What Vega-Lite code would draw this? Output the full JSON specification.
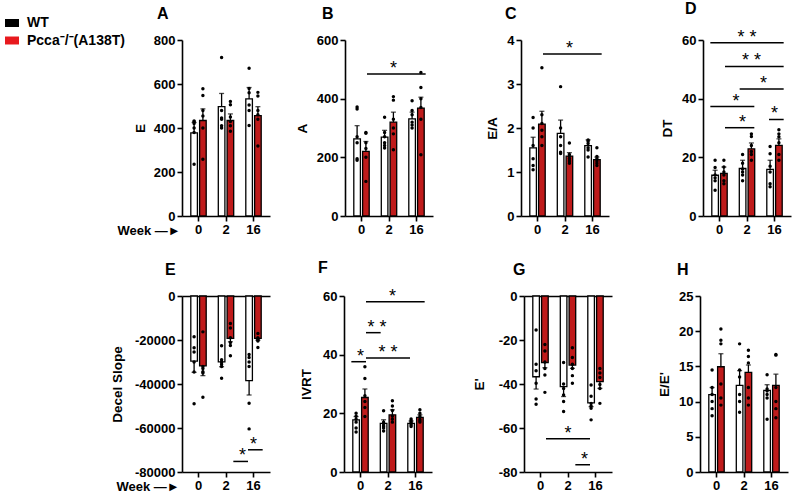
{
"$schema": "https://vega.github.io/schema/vega-lite/v6.json",
"padding": {"left": 5, "right": 5, "top": 0, "bottom": 5},
"config": {
 "view": {"stroke": null},
 "font": "Liberation Sans",
 "axis": {"grid": false, "domainColor": "black", "domainWidth": 1.6, "tickColor": "black", "tickWidth": 1.6, "tickSize": 5, "labelColor": "black", "labelFont": "Liberation Sans", "labelFontSize": 13, "labelFontWeight": "bold", "labelPadding": 2, "titleColor": "black", "titleFont": "Liberation Sans", "titleFontSize": 13.5, "titleFontWeight": "bold"},
 "axisX": {"labelAngle": 0},
 "title": {"font": "Liberation Sans", "fontSize": 16, "fontWeight": "bold", "color": "black", "anchor": "start", "frame": "group", "offset": 12},
 "scale": {"bandPaddingInner": 0, "bandPaddingOuter": 0, "offsetBandPaddingInner": 0.25, "offsetBandPaddingOuter": 0.375}
},
"datasets": {
 "bars": [
  {"p":"A","week":"0","group":"WT","mean":378,"err":425},{"p":"A","week":"0","group":"Pcca","mean":434,"err":487},
  {"p":"A","week":"2","group":"WT","mean":497,"err":557},{"p":"A","week":"2","group":"Pcca","mean":434,"err":464},
  {"p":"A","week":"16","group":"WT","mean":532,"err":584},{"p":"A","week":"16","group":"Pcca","mean":456,"err":497},
  {"p":"B","week":"0","group":"WT","mean":263,"err":308},{"p":"B","week":"0","group":"Pcca","mean":220,"err":254},
  {"p":"B","week":"2","group":"WT","mean":269,"err":292},{"p":"B","week":"2","group":"Pcca","mean":320,"err":354},
  {"p":"B","week":"16","group":"WT","mean":331,"err":354},{"p":"B","week":"16","group":"Pcca","mean":368,"err":405},
  {"p":"C","week":"0","group":"WT","mean":1.55,"err":1.79},{"p":"C","week":"0","group":"Pcca","mean":2.09,"err":2.38},
  {"p":"C","week":"2","group":"WT","mean":1.88,"err":2.18},{"p":"C","week":"2","group":"Pcca","mean":1.36,"err":1.44},
  {"p":"C","week":"16","group":"WT","mean":1.6,"err":1.73},{"p":"C","week":"16","group":"Pcca","mean":1.28,"err":1.34},
  {"p":"D","week":"0","group":"WT","mean":13.9,"err":15.6},{"p":"D","week":"0","group":"Pcca","mean":14.5,"err":16.7},
  {"p":"D","week":"2","group":"WT","mean":16.2,"err":19.0},{"p":"D","week":"2","group":"Pcca","mean":22.9,"err":24.9},
  {"p":"D","week":"16","group":"WT","mean":15.9,"err":19.0},{"p":"D","week":"16","group":"Pcca","mean":24.1,"err":26.3},
  {"p":"E","week":"0","group":"WT","mean":-29600,"err":-34700},{"p":"E","week":"0","group":"Pcca","mean":-31800,"err":-36200},
  {"p":"E","week":"2","group":"WT","mean":-29900,"err":-32150},{"p":"E","week":"2","group":"Pcca","mean":-19300,"err":-20800},
  {"p":"E","week":"16","group":"WT","mean":-38500,"err":-45000},{"p":"E","week":"16","group":"Pcca","mean":-19300,"err":-20100},
  {"p":"F","week":"0","group":"WT","mean":17.8,"err":18.9},{"p":"F","week":"0","group":"Pcca","mean":25.4,"err":28.3},
  {"p":"F","week":"2","group":"WT","mean":16.6,"err":17.8},{"p":"F","week":"2","group":"Pcca","mean":19.5,"err":21.2},
  {"p":"F","week":"16","group":"WT","mean":16.6,"err":17.4},{"p":"F","week":"16","group":"Pcca","mean":18.6,"err":19.5},
  {"p":"G","week":"0","group":"WT","mean":-36.7,"err":-42.3},{"p":"G","week":"0","group":"Pcca","mean":-30.3,"err":-32.6},
  {"p":"G","week":"2","group":"WT","mean":-41.2,"err":-45.7},{"p":"G","week":"2","group":"Pcca","mean":-31.4,"err":-32.9},
  {"p":"G","week":"16","group":"WT","mean":-48.6,"err":-50.3},{"p":"G","week":"16","group":"Pcca","mean":-38.9,"err":-42.0},
  {"p":"H","week":"0","group":"WT","mean":11.0,"err":12.0},{"p":"H","week":"0","group":"Pcca","mean":14.95,"err":16.8},
  {"p":"H","week":"2","group":"WT","mean":12.3,"err":14.4},{"p":"H","week":"2","group":"Pcca","mean":14.15,"err":15.2},
  {"p":"H","week":"16","group":"WT","mean":11.6,"err":12.4},{"p":"H","week":"16","group":"Pcca","mean":12.3,"err":13.9}
 ],
 "pts": [
  {"p":"A","week":"0","group":"WT","v":432},{"p":"A","week":"0","group":"WT","v":428},{"p":"A","week":"0","group":"WT","v":420},{"p":"A","week":"0","group":"WT","v":400},{"p":"A","week":"0","group":"WT","v":380},{"p":"A","week":"0","group":"WT","v":235},
  {"p":"A","week":"0","group":"Pcca","v":578},{"p":"A","week":"0","group":"Pcca","v":548},{"p":"A","week":"0","group":"Pcca","v":480},{"p":"A","week":"0","group":"Pcca","v":455},{"p":"A","week":"0","group":"Pcca","v":400},{"p":"A","week":"0","group":"Pcca","v":258},
  {"p":"A","week":"2","group":"WT","v":720},{"p":"A","week":"2","group":"WT","v":480},{"p":"A","week":"2","group":"WT","v":445},{"p":"A","week":"2","group":"WT","v":440},{"p":"A","week":"2","group":"WT","v":410},{"p":"A","week":"2","group":"WT","v":400},
  {"p":"A","week":"2","group":"Pcca","v":521},{"p":"A","week":"2","group":"Pcca","v":506},{"p":"A","week":"2","group":"Pcca","v":450},{"p":"A","week":"2","group":"Pcca","v":430},{"p":"A","week":"2","group":"Pcca","v":410},{"p":"A","week":"2","group":"Pcca","v":385},
  {"p":"A","week":"16","group":"WT","v":672},{"p":"A","week":"16","group":"WT","v":580},{"p":"A","week":"16","group":"WT","v":560},{"p":"A","week":"16","group":"WT","v":505},{"p":"A","week":"16","group":"WT","v":480},{"p":"A","week":"16","group":"WT","v":411},
  {"p":"A","week":"16","group":"Pcca","v":562},{"p":"A","week":"16","group":"Pcca","v":545},{"p":"A","week":"16","group":"Pcca","v":480},{"p":"A","week":"16","group":"Pcca","v":460},{"p":"A","week":"16","group":"Pcca","v":440},{"p":"A","week":"16","group":"Pcca","v":318},
  {"p":"B","week":"0","group":"WT","v":372},{"p":"B","week":"0","group":"WT","v":365},{"p":"B","week":"0","group":"WT","v":270},{"p":"B","week":"0","group":"WT","v":250},{"p":"B","week":"0","group":"WT","v":195},{"p":"B","week":"0","group":"WT","v":190},
  {"p":"B","week":"0","group":"Pcca","v":285},{"p":"B","week":"0","group":"Pcca","v":282},{"p":"B","week":"0","group":"Pcca","v":250},{"p":"B","week":"0","group":"Pcca","v":230},{"p":"B","week":"0","group":"Pcca","v":200},{"p":"B","week":"0","group":"Pcca","v":118},
  {"p":"B","week":"2","group":"WT","v":337},{"p":"B","week":"2","group":"WT","v":285},{"p":"B","week":"2","group":"WT","v":270},{"p":"B","week":"2","group":"WT","v":250},{"p":"B","week":"2","group":"WT","v":240},{"p":"B","week":"2","group":"WT","v":232},
  {"p":"B","week":"2","group":"Pcca","v":407},{"p":"B","week":"2","group":"Pcca","v":395},{"p":"B","week":"2","group":"Pcca","v":330},{"p":"B","week":"2","group":"Pcca","v":300},{"p":"B","week":"2","group":"Pcca","v":280},{"p":"B","week":"2","group":"Pcca","v":226},
  {"p":"B","week":"16","group":"WT","v":393},{"p":"B","week":"16","group":"WT","v":360},{"p":"B","week":"16","group":"WT","v":345},{"p":"B","week":"16","group":"WT","v":320},{"p":"B","week":"16","group":"WT","v":310},{"p":"B","week":"16","group":"WT","v":300},
  {"p":"B","week":"16","group":"Pcca","v":489},{"p":"B","week":"16","group":"Pcca","v":438},{"p":"B","week":"16","group":"Pcca","v":400},{"p":"B","week":"16","group":"Pcca","v":370},{"p":"B","week":"16","group":"Pcca","v":330},{"p":"B","week":"16","group":"Pcca","v":209},
  {"p":"C","week":"0","group":"WT","v":2.24},{"p":"C","week":"0","group":"WT","v":2.0},{"p":"C","week":"0","group":"WT","v":1.6},{"p":"C","week":"0","group":"WT","v":1.3},{"p":"C","week":"0","group":"WT","v":1.15},{"p":"C","week":"0","group":"WT","v":1.05},
  {"p":"C","week":"0","group":"Pcca","v":3.37},{"p":"C","week":"0","group":"Pcca","v":2.3},{"p":"C","week":"0","group":"Pcca","v":2.1},{"p":"C","week":"0","group":"Pcca","v":1.95},{"p":"C","week":"0","group":"Pcca","v":1.8},{"p":"C","week":"0","group":"Pcca","v":1.6},
  {"p":"C","week":"2","group":"WT","v":2.94},{"p":"C","week":"2","group":"WT","v":2.0},{"p":"C","week":"2","group":"WT","v":1.8},{"p":"C","week":"2","group":"WT","v":1.6},{"p":"C","week":"2","group":"WT","v":1.45},{"p":"C","week":"2","group":"WT","v":1.42},
  {"p":"C","week":"2","group":"Pcca","v":1.66},{"p":"C","week":"2","group":"Pcca","v":1.4},{"p":"C","week":"2","group":"Pcca","v":1.35},{"p":"C","week":"2","group":"Pcca","v":1.3},{"p":"C","week":"2","group":"Pcca","v":1.25},{"p":"C","week":"2","group":"Pcca","v":1.2},
  {"p":"C","week":"16","group":"WT","v":1.73},{"p":"C","week":"16","group":"WT","v":1.7},{"p":"C","week":"16","group":"WT","v":1.65},{"p":"C","week":"16","group":"WT","v":1.55},{"p":"C","week":"16","group":"WT","v":1.5},{"p":"C","week":"16","group":"WT","v":1.34},
  {"p":"C","week":"16","group":"Pcca","v":1.55},{"p":"C","week":"16","group":"Pcca","v":1.35},{"p":"C","week":"16","group":"Pcca","v":1.3},{"p":"C","week":"16","group":"Pcca","v":1.25},{"p":"C","week":"16","group":"Pcca","v":1.2},{"p":"C","week":"16","group":"Pcca","v":1.15},
  {"p":"D","week":"0","group":"WT","v":19},{"p":"D","week":"0","group":"WT","v":16.5},{"p":"D","week":"0","group":"WT","v":14},{"p":"D","week":"0","group":"WT","v":13},{"p":"D","week":"0","group":"WT","v":12},{"p":"D","week":"0","group":"WT","v":8.8},
  {"p":"D","week":"0","group":"Pcca","v":19},{"p":"D","week":"0","group":"Pcca","v":16.7},{"p":"D","week":"0","group":"Pcca","v":15},{"p":"D","week":"0","group":"Pcca","v":14},{"p":"D","week":"0","group":"Pcca","v":12},{"p":"D","week":"0","group":"Pcca","v":11},
  {"p":"D","week":"2","group":"WT","v":21},{"p":"D","week":"2","group":"WT","v":18},{"p":"D","week":"2","group":"WT","v":16},{"p":"D","week":"2","group":"WT","v":15},{"p":"D","week":"2","group":"WT","v":14},{"p":"D","week":"2","group":"WT","v":12},
  {"p":"D","week":"2","group":"Pcca","v":28},{"p":"D","week":"2","group":"Pcca","v":27.1},{"p":"D","week":"2","group":"Pcca","v":24},{"p":"D","week":"2","group":"Pcca","v":22},{"p":"D","week":"2","group":"Pcca","v":21},{"p":"D","week":"2","group":"Pcca","v":19},
  {"p":"D","week":"16","group":"WT","v":23.7},{"p":"D","week":"16","group":"WT","v":21.2},{"p":"D","week":"16","group":"WT","v":17},{"p":"D","week":"16","group":"WT","v":15},{"p":"D","week":"16","group":"WT","v":11},{"p":"D","week":"16","group":"WT","v":10},
  {"p":"D","week":"16","group":"Pcca","v":29.4},{"p":"D","week":"16","group":"Pcca","v":28},{"p":"D","week":"16","group":"Pcca","v":27},{"p":"D","week":"16","group":"Pcca","v":25},{"p":"D","week":"16","group":"Pcca","v":21},{"p":"D","week":"16","group":"Pcca","v":19},
  {"p":"E","week":"0","group":"WT","v":-18500},{"p":"E","week":"0","group":"WT","v":-23500},{"p":"E","week":"0","group":"WT","v":-25500},{"p":"E","week":"0","group":"WT","v":-30000},{"p":"E","week":"0","group":"WT","v":-34500},{"p":"E","week":"0","group":"WT","v":-49000},
  {"p":"E","week":"0","group":"Pcca","v":-16300},{"p":"E","week":"0","group":"Pcca","v":-32000},{"p":"E","week":"0","group":"Pcca","v":-33000},{"p":"E","week":"0","group":"Pcca","v":-34400},{"p":"E","week":"0","group":"Pcca","v":-35000},{"p":"E","week":"0","group":"Pcca","v":-46000},
  {"p":"E","week":"2","group":"WT","v":-22640},{"p":"E","week":"2","group":"WT","v":-29000},{"p":"E","week":"2","group":"WT","v":-30000},{"p":"E","week":"2","group":"WT","v":-31000},{"p":"E","week":"2","group":"WT","v":-32000},{"p":"E","week":"2","group":"WT","v":-37400},
  {"p":"E","week":"2","group":"Pcca","v":-12530},{"p":"E","week":"2","group":"Pcca","v":-14500},{"p":"E","week":"2","group":"Pcca","v":-19000},{"p":"E","week":"2","group":"Pcca","v":-21100},{"p":"E","week":"2","group":"Pcca","v":-22500},{"p":"E","week":"2","group":"Pcca","v":-27200},
  {"p":"E","week":"16","group":"WT","v":-26560},{"p":"E","week":"16","group":"WT","v":-28000},{"p":"E","week":"16","group":"WT","v":-30000},{"p":"E","week":"16","group":"WT","v":-32000},{"p":"E","week":"16","group":"WT","v":-48750},{"p":"E","week":"16","group":"WT","v":-60400},
  {"p":"E","week":"16","group":"Pcca","v":-17060},{"p":"E","week":"16","group":"Pcca","v":-19000},{"p":"E","week":"16","group":"Pcca","v":-19500},{"p":"E","week":"16","group":"Pcca","v":-20000},{"p":"E","week":"16","group":"Pcca","v":-20500},{"p":"E","week":"16","group":"Pcca","v":-23400},
  {"p":"F","week":"0","group":"WT","v":20},{"p":"F","week":"0","group":"WT","v":19},{"p":"F","week":"0","group":"WT","v":18},{"p":"F","week":"0","group":"WT","v":17},{"p":"F","week":"0","group":"WT","v":15},{"p":"F","week":"0","group":"WT","v":13.6},
  {"p":"F","week":"0","group":"Pcca","v":35.9},{"p":"F","week":"0","group":"Pcca","v":31.9},{"p":"F","week":"0","group":"Pcca","v":26},{"p":"F","week":"0","group":"Pcca","v":24},{"p":"F","week":"0","group":"Pcca","v":22},{"p":"F","week":"0","group":"Pcca","v":18.9},
  {"p":"F","week":"2","group":"WT","v":20.9},{"p":"F","week":"2","group":"WT","v":17},{"p":"F","week":"2","group":"WT","v":16},{"p":"F","week":"2","group":"WT","v":15.5},{"p":"F","week":"2","group":"WT","v":15},{"p":"F","week":"2","group":"WT","v":14},
  {"p":"F","week":"2","group":"Pcca","v":24.3},{"p":"F","week":"2","group":"Pcca","v":22.5},{"p":"F","week":"2","group":"Pcca","v":21},{"p":"F","week":"2","group":"Pcca","v":19},{"p":"F","week":"2","group":"Pcca","v":18},{"p":"F","week":"2","group":"Pcca","v":17},
  {"p":"F","week":"16","group":"WT","v":18.1},{"p":"F","week":"16","group":"WT","v":17.5},{"p":"F","week":"16","group":"WT","v":17},{"p":"F","week":"16","group":"WT","v":16.5},{"p":"F","week":"16","group":"WT","v":16},{"p":"F","week":"16","group":"WT","v":15.5},
  {"p":"F","week":"16","group":"Pcca","v":21.2},{"p":"F","week":"16","group":"Pcca","v":20},{"p":"F","week":"16","group":"Pcca","v":19},{"p":"F","week":"16","group":"Pcca","v":18},{"p":"F","week":"16","group":"Pcca","v":17.5},{"p":"F","week":"16","group":"Pcca","v":17},
  {"p":"G","week":"0","group":"WT","v":-15.5},{"p":"G","week":"0","group":"WT","v":-31},{"p":"G","week":"0","group":"WT","v":-34},{"p":"G","week":"0","group":"WT","v":-39.7},{"p":"G","week":"0","group":"WT","v":-46.8},{"p":"G","week":"0","group":"WT","v":-49.2},
  {"p":"G","week":"0","group":"Pcca","v":-22},{"p":"G","week":"0","group":"Pcca","v":-25},{"p":"G","week":"0","group":"Pcca","v":-30},{"p":"G","week":"0","group":"Pcca","v":-33},{"p":"G","week":"0","group":"Pcca","v":-35.9},{"p":"G","week":"0","group":"Pcca","v":-43.8},
  {"p":"G","week":"2","group":"WT","v":-30.2},{"p":"G","week":"2","group":"WT","v":-40},{"p":"G","week":"2","group":"WT","v":-42},{"p":"G","week":"2","group":"WT","v":-45},{"p":"G","week":"2","group":"WT","v":-48},{"p":"G","week":"2","group":"WT","v":-52.5},
  {"p":"G","week":"2","group":"Pcca","v":-23.5},{"p":"G","week":"2","group":"Pcca","v":-28},{"p":"G","week":"2","group":"Pcca","v":-31},{"p":"G","week":"2","group":"Pcca","v":-33},{"p":"G","week":"2","group":"Pcca","v":-36.2},{"p":"G","week":"2","group":"Pcca","v":-39.7},
  {"p":"G","week":"16","group":"WT","v":-40.5},{"p":"G","week":"16","group":"WT","v":-45.6},{"p":"G","week":"16","group":"WT","v":-48.8},{"p":"G","week":"16","group":"WT","v":-50},{"p":"G","week":"16","group":"WT","v":-51},{"p":"G","week":"16","group":"WT","v":-56.3},
  {"p":"G","week":"16","group":"Pcca","v":-33},{"p":"G","week":"16","group":"Pcca","v":-35},{"p":"G","week":"16","group":"Pcca","v":-37},{"p":"G","week":"16","group":"Pcca","v":-40.2},{"p":"G","week":"16","group":"Pcca","v":-42},{"p":"G","week":"16","group":"Pcca","v":-48.8},
  {"p":"H","week":"0","group":"WT","v":14.5},{"p":"H","week":"0","group":"WT","v":12},{"p":"H","week":"0","group":"WT","v":11},{"p":"H","week":"0","group":"WT","v":10},{"p":"H","week":"0","group":"WT","v":9},{"p":"H","week":"0","group":"WT","v":8},
  {"p":"H","week":"0","group":"Pcca","v":20.3},{"p":"H","week":"0","group":"Pcca","v":18.7},{"p":"H","week":"0","group":"Pcca","v":18.2},{"p":"H","week":"0","group":"Pcca","v":12.5},{"p":"H","week":"0","group":"Pcca","v":10.5},{"p":"H","week":"0","group":"Pcca","v":9.5},
  {"p":"H","week":"2","group":"WT","v":18.2},{"p":"H","week":"2","group":"WT","v":14.5},{"p":"H","week":"2","group":"WT","v":13.5},{"p":"H","week":"2","group":"WT","v":11},{"p":"H","week":"2","group":"WT","v":10},{"p":"H","week":"2","group":"WT","v":8.5},
  {"p":"H","week":"2","group":"Pcca","v":17.3},{"p":"H","week":"2","group":"Pcca","v":16.4},{"p":"H","week":"2","group":"Pcca","v":15.5},{"p":"H","week":"2","group":"Pcca","v":12},{"p":"H","week":"2","group":"Pcca","v":10.5},{"p":"H","week":"2","group":"Pcca","v":9.5},
  {"p":"H","week":"16","group":"WT","v":13.8},{"p":"H","week":"16","group":"WT","v":11.8},{"p":"H","week":"16","group":"WT","v":11.5},{"p":"H","week":"16","group":"WT","v":11},{"p":"H","week":"16","group":"WT","v":10.5},{"p":"H","week":"16","group":"WT","v":7.5},
  {"p":"H","week":"16","group":"Pcca","v":16.7},{"p":"H","week":"16","group":"Pcca","v":16.6},{"p":"H","week":"16","group":"Pcca","v":12},{"p":"H","week":"16","group":"Pcca","v":10},{"p":"H","week":"16","group":"Pcca","v":9},{"p":"H","week":"16","group":"Pcca","v":7.7}
 ],
 "sig": [
  {"p":"B","from":"Pcca 0","to":"Pcca 16","y":484,"label":"*","week":"2","at":"Pcca"},
  {"p":"C","from":"Pcca 0","to":"Pcca 16","y":3.68,"label":"*","week":"2","at":"Pcca"},
  {"p":"D","from":"WT 0","to":"Pcca 16","y":59.1,"label":"* *","week":"2","at":"mid"},
  {"p":"D","from":"Pcca 0","to":"Pcca 16","y":51.0,"label":"* *","week":"2","at":"Pcca"},
  {"p":"D","from":"WT 2","to":"Pcca 16","y":43.3,"label":"*","week":"16","at":"gap"},
  {"p":"D","from":"WT 0","to":"Pcca 2","y":37.3,"label":"*","week":"2","at":"gap"},
  {"p":"D","from":"Pcca 0","to":"Pcca 2","y":30.1,"label":"*","week":"2","at":"WT"},
  {"p":"D","from":"WT 16","to":"Pcca 16","y":32.9,"label":"*","week":"16","at":"mid"},
  {"p":"E","from":"Pcca 2","to":"WT 16","y":-75200,"label":"*","week":"16","at":"gap"},
  {"p":"E","from":"WT 16","to":"Pcca 16","y":-69900,"label":"*","week":"16","at":"mid"},
  {"p":"F","from":"Pcca 0","to":"Pcca 16","y":58.0,"label":"*","week":"2","at":"Pcca"},
  {"p":"F","from":"Pcca 0","to":"WT 2","y":47.5,"label":"* *","week":"2","at":"gap"},
  {"p":"F","from":"Pcca 0","to":"WT 16","y":38.9,"label":"* *","week":"2","at":"mid"},
  {"p":"F","from":"WT 0","to":"Pcca 0","y":37.6,"label":"*","week":"0","at":"mid"},
  {"p":"G","from":"Pcca 0","to":"WT 16","y":-64.9,"label":"*","week":"2","at":"mid"},
  {"p":"G","from":"Pcca 2","to":"WT 16","y":-76.7,"label":"*","week":"16","at":"gap"}
 ]
},
"spacing": 22,
"vconcat": [
 {"spacing": 52, "hconcat": [
  {"spacing": 25, "hconcat": [
   {"width": 88, "height": 176, "title": {"text": "A", "dx": -25},
    "layer": [
     {"data": {"name": "bars"}, "transform": [{"filter": "datum.p == 'A'"}],
      "mark": {"type": "bar", "stroke": "black", "strokeWidth": 1.3},
      "encoding": {
       "x": {"field": "week", "type": "nominal", "scale": {"domain": ["0","2","16"]}, "axis": {"title": "Week —►", "titleX": -65, "titleY": 14, "titleAlign": "left", "titleBaseline": "middle", "titleAngle": 0, "titleFontSize": 13}},
       "xOffset": {"field": "group", "type": "nominal", "scale": {"domain": ["WT","Pcca"]}},
       "y": {"field": "mean", "type": "quantitative", "scale": {"domain": [0, 800], "nice": false}, "axis": {"title": "E", "tickCount": 5, "titlePadding": 5.5}},
       "fill": {"field": "group", "type": "nominal", "scale": {"domain": ["Pcca","WT"], "range": ["#bf1b1b", "white"]}, "legend": null}
      }},
     {"data": {"name": "bars"}, "transform": [{"filter": "datum.p == 'A'"}],
      "mark": {"type": "rule", "color": "black", "strokeWidth": 1.3},
      "encoding": {"x": {"field": "week", "type": "nominal", "scale": {"domain": ["0","2","16"]}}, "xOffset": {"field": "group", "type": "nominal", "scale": {"domain": ["WT","Pcca"]}}, "y": {"field": "mean", "type": "quantitative"}, "y2": {"field": "err"}}},
     {"data": {"name": "bars"}, "transform": [{"filter": "datum.p == 'A'"}],
      "mark": {"type": "tick", "orient": "horizontal", "color": "black", "size": 5, "thickness": 1.3},
      "encoding": {"x": {"field": "week", "type": "nominal", "scale": {"domain": ["0","2","16"]}}, "xOffset": {"field": "group", "type": "nominal", "scale": {"domain": ["WT","Pcca"]}}, "y": {"field": "err", "type": "quantitative"}}},
     {"data": {"name": "pts"}, "transform": [{"filter": "datum.p == 'A'"}],
      "mark": {"type": "circle", "color": "black", "size": 12, "opacity": 1},
      "encoding": {"x": {"field": "week", "type": "nominal", "scale": {"domain": ["0","2","16"]}}, "xOffset": {"field": "group", "type": "nominal", "scale": {"domain": ["WT","Pcca"]}}, "y": {"field": "v", "type": "quantitative"}}},
     {"data": {"name": "bars"}, "transform": [{"filter": "datum.p == 'A'"}],
      "mark": {"type": "square", "opacity": 0},
      "encoding": {"x": {"field": "week", "type": "nominal", "scale": {"domain": ["0","2","16"]}}, "xOffset": {"field": "group", "type": "nominal", "scale": {"domain": ["WT","Pcca"]}}, "y": {"field": "mean", "type": "quantitative"},
       "color": {"field": "group", "type": "nominal", "scale": {"domain": ["WT","Pcca"], "range": ["black", "#e8191e"]},
        "legend": {"title": null, "orient": "none", "legendX": -177, "legendY": -24, "symbolType": "M-1,-0.57H1V0.57H-1Z", "symbolSize": 196, "symbolStrokeWidth": 0, "symbolOpacity": 1, "labelFont": "Liberation Sans", "labelFontSize": 14, "labelFontWeight": "bold", "labelColor": "black", "rowPadding": 3.5, "labelOffset": 8, "padding": 0, "labelExpr": "datum.label == 'WT' ? 'WT' : 'Pcca⁻/⁻(A138T)'"}}}}
    ]},
   {"width": 88, "height": 176, "title": {"text": "B", "dx": -23},
    "layer": [
     {"layer": [
      {"data": {"name": "bars"}, "transform": [{"filter": "datum.p == 'B'"}],
       "mark": {"type": "bar", "stroke": "black", "strokeWidth": 1.3},
       "encoding": {
        "x": {"field": "week", "type": "nominal", "scale": {"domain": ["0","2","16"]}, "axis": {"title": null}},
        "xOffset": {"field": "group", "type": "nominal", "scale": {"domain": ["WT","Pcca"]}},
        "y": {"field": "mean", "type": "quantitative", "scale": {"domain": [0, 600], "nice": false}, "axis": {"title": "A", "tickCount": 4, "titlePadding": 6.5}},
        "fill": {"field": "group", "type": "nominal", "scale": {"domain": ["Pcca","WT"], "range": ["#bf1b1b", "white"]}, "legend": null}
       }},
      {"data": {"name": "bars"}, "transform": [{"filter": "datum.p == 'B'"}],
       "mark": {"type": "rule", "color": "black", "strokeWidth": 1.3},
       "encoding": {"x": {"field": "week", "type": "nominal", "scale": {"domain": ["0","2","16"]}}, "xOffset": {"field": "group", "type": "nominal", "scale": {"domain": ["WT","Pcca"]}}, "y": {"field": "mean", "type": "quantitative"}, "y2": {"field": "err"}}},
      {"data": {"name": "bars"}, "transform": [{"filter": "datum.p == 'B'"}],
       "mark": {"type": "tick", "orient": "horizontal", "color": "black", "size": 5, "thickness": 1.3},
       "encoding": {"x": {"field": "week", "type": "nominal", "scale": {"domain": ["0","2","16"]}}, "xOffset": {"field": "group", "type": "nominal", "scale": {"domain": ["WT","Pcca"]}}, "y": {"field": "err", "type": "quantitative"}}},
      {"data": {"name": "pts"}, "transform": [{"filter": "datum.p == 'B'"}],
       "mark": {"type": "circle", "color": "black", "size": 12, "opacity": 1},
       "encoding": {"x": {"field": "week", "type": "nominal", "scale": {"domain": ["0","2","16"]}}, "xOffset": {"field": "group", "type": "nominal", "scale": {"domain": ["WT","Pcca"]}}, "y": {"field": "v", "type": "quantitative"}}},
      {"data": {"name": "sig"}, "transform": [{"filter": "datum.p == 'B' && (datum.at == 'WT' || datum.at == 'Pcca')"}],
       "mark": {"type": "text", "fontSize": 18, "baseline": "alphabetic", "color": "black"},
       "encoding": {"x": {"field": "week", "type": "nominal", "scale": {"domain": ["0","2","16"]}}, "xOffset": {"field": "at", "type": "nominal", "scale": {"domain": ["WT","Pcca"]}}, "y": {"field": "y", "type": "quantitative"}, "text": {"field": "label"}}}
     ]},
     {"data": {"name": "sig"}, "transform": [{"filter": "datum.p == 'B'"}],
      "mark": {"type": "rule", "color": "black", "strokeWidth": 1.5},
      "encoding": {"x": {"field": "from", "type": "nominal", "scale": {"type": "point", "domain": ["WT 0","Pcca 0","WT 2","Pcca 2","WT 16","Pcca 16"], "padding": 0.5}, "axis": null}, "x2": {"field": "to"}, "y": {"field": "y", "type": "quantitative"}}}
    ],
    "resolve": {"scale": {"x": "independent"}}}
  ]},
  {"spacing": 51, "hconcat": [
   {"width": 88, "height": 176, "title": {"text": "C", "dx": -16},
    "layer": [
     {"layer": [
      {"data": {"name": "bars"}, "transform": [{"filter": "datum.p == 'C'"}],
       "mark": {"type": "bar", "stroke": "black", "strokeWidth": 1.3},
       "encoding": {
        "x": {"field": "week", "type": "nominal", "scale": {"domain": ["0","2","16"]}, "axis": {"title": null}},
        "xOffset": {"field": "group", "type": "nominal", "scale": {"domain": ["WT","Pcca"]}},
        "y": {"field": "mean", "type": "quantitative", "scale": {"domain": [0, 4], "nice": false}, "axis": {"title": "E/A", "tickCount": 5, "titlePadding": 7}},
        "fill": {"field": "group", "type": "nominal", "scale": {"domain": ["Pcca","WT"], "range": ["#bf1b1b", "white"]}, "legend": null}
       }},
      {"data": {"name": "bars"}, "transform": [{"filter": "datum.p == 'C'"}],
       "mark": {"type": "rule", "color": "black", "strokeWidth": 1.3},
       "encoding": {"x": {"field": "week", "type": "nominal", "scale": {"domain": ["0","2","16"]}}, "xOffset": {"field": "group", "type": "nominal", "scale": {"domain": ["WT","Pcca"]}}, "y": {"field": "mean", "type": "quantitative"}, "y2": {"field": "err"}}},
      {"data": {"name": "bars"}, "transform": [{"filter": "datum.p == 'C'"}],
       "mark": {"type": "tick", "orient": "horizontal", "color": "black", "size": 5, "thickness": 1.3},
       "encoding": {"x": {"field": "week", "type": "nominal", "scale": {"domain": ["0","2","16"]}}, "xOffset": {"field": "group", "type": "nominal", "scale": {"domain": ["WT","Pcca"]}}, "y": {"field": "err", "type": "quantitative"}}},
      {"data": {"name": "pts"}, "transform": [{"filter": "datum.p == 'C'"}],
       "mark": {"type": "circle", "color": "black", "size": 12, "opacity": 1},
       "encoding": {"x": {"field": "week", "type": "nominal", "scale": {"domain": ["0","2","16"]}}, "xOffset": {"field": "group", "type": "nominal", "scale": {"domain": ["WT","Pcca"]}}, "y": {"field": "v", "type": "quantitative"}}},
      {"data": {"name": "sig"}, "transform": [{"filter": "datum.p == 'C' && (datum.at == 'WT' || datum.at == 'Pcca')"}],
       "mark": {"type": "text", "fontSize": 18, "baseline": "alphabetic", "color": "black"},
       "encoding": {"x": {"field": "week", "type": "nominal", "scale": {"domain": ["0","2","16"]}}, "xOffset": {"field": "at", "type": "nominal", "scale": {"domain": ["WT","Pcca"]}}, "y": {"field": "y", "type": "quantitative"}, "text": {"field": "label"}}}
     ]},
     {"data": {"name": "sig"}, "transform": [{"filter": "datum.p == 'C'"}],
      "mark": {"type": "rule", "color": "black", "strokeWidth": 1.5},
      "encoding": {"x": {"field": "from", "type": "nominal", "scale": {"type": "point", "domain": ["WT 0","Pcca 0","WT 2","Pcca 2","WT 16","Pcca 16"], "padding": 0.5}, "axis": null}, "x2": {"field": "to"}, "y": {"field": "y", "type": "quantitative"}}}
    ],
    "resolve": {"scale": {"x": "independent"}}},
   {"width": 88, "height": 176, "title": {"text": "D", "dx": -18},
    "layer": [
     {"layer": [
      {"data": {"name": "bars"}, "transform": [{"filter": "datum.p == 'D'"}],
       "mark": {"type": "bar", "stroke": "black", "strokeWidth": 1.3},
       "encoding": {
        "x": {"field": "week", "type": "nominal", "scale": {"domain": ["0","2","16"]}, "axis": {"title": null}},
        "xOffset": {"field": "group", "type": "nominal", "scale": {"domain": ["WT","Pcca"]}},
        "y": {"field": "mean", "type": "quantitative", "scale": {"domain": [0, 60], "nice": false}, "axis": {"title": "DT", "tickCount": 4, "titlePadding": 7}},
        "fill": {"field": "group", "type": "nominal", "scale": {"domain": ["Pcca","WT"], "range": ["#bf1b1b", "white"]}, "legend": null}
       }},
      {"data": {"name": "bars"}, "transform": [{"filter": "datum.p == 'D'"}],
       "mark": {"type": "rule", "color": "black", "strokeWidth": 1.3},
       "encoding": {"x": {"field": "week", "type": "nominal", "scale": {"domain": ["0","2","16"]}}, "xOffset": {"field": "group", "type": "nominal", "scale": {"domain": ["WT","Pcca"]}}, "y": {"field": "mean", "type": "quantitative"}, "y2": {"field": "err"}}},
      {"data": {"name": "bars"}, "transform": [{"filter": "datum.p == 'D'"}],
       "mark": {"type": "tick", "orient": "horizontal", "color": "black", "size": 5, "thickness": 1.3},
       "encoding": {"x": {"field": "week", "type": "nominal", "scale": {"domain": ["0","2","16"]}}, "xOffset": {"field": "group", "type": "nominal", "scale": {"domain": ["WT","Pcca"]}}, "y": {"field": "err", "type": "quantitative"}}},
      {"data": {"name": "pts"}, "transform": [{"filter": "datum.p == 'D'"}],
       "mark": {"type": "circle", "color": "black", "size": 12, "opacity": 1},
       "encoding": {"x": {"field": "week", "type": "nominal", "scale": {"domain": ["0","2","16"]}}, "xOffset": {"field": "group", "type": "nominal", "scale": {"domain": ["WT","Pcca"]}}, "y": {"field": "v", "type": "quantitative"}}},
      {"data": {"name": "sig"}, "transform": [{"filter": "datum.p == 'D' && (datum.at == 'WT' || datum.at == 'Pcca')"}],
       "mark": {"type": "text", "fontSize": 18, "baseline": "alphabetic", "color": "black"},
       "encoding": {"x": {"field": "week", "type": "nominal", "scale": {"domain": ["0","2","16"]}}, "xOffset": {"field": "at", "type": "nominal", "scale": {"domain": ["WT","Pcca"]}}, "y": {"field": "y", "type": "quantitative"}, "text": {"field": "label"}}},
      {"data": {"name": "sig"}, "transform": [{"filter": "datum.p == 'D' && datum.at == 'mid'"}],
       "mark": {"type": "text", "fontSize": 18, "baseline": "alphabetic", "color": "black"},
       "encoding": {"x": {"field": "week", "type": "nominal", "scale": {"domain": ["0","2","16"]}, "bandPosition": 0.5}, "y": {"field": "y", "type": "quantitative"}, "text": {"field": "label"}}},
      {"data": {"name": "sig"}, "transform": [{"filter": "datum.p == 'D' && datum.at == 'gap'"}],
       "mark": {"type": "text", "fontSize": 18, "baseline": "alphabetic", "color": "black"},
       "encoding": {"x": {"field": "week", "type": "nominal", "scale": {"domain": ["0","2","16"]}, "bandPosition": 0}, "y": {"field": "y", "type": "quantitative"}, "text": {"field": "label"}}}
     ]},
     {"data": {"name": "sig"}, "transform": [{"filter": "datum.p == 'D'"}],
      "mark": {"type": "rule", "color": "black", "strokeWidth": 1.5},
      "encoding": {"x": {"field": "from", "type": "nominal", "scale": {"type": "point", "domain": ["WT 0","Pcca 0","WT 2","Pcca 2","WT 16","Pcca 16"], "padding": 0.5}, "axis": null}, "x2": {"field": "to"}, "y": {"field": "y", "type": "quantitative"}}}
    ],
    "resolve": {"scale": {"x": "independent"}}}
  ]}
 ]},
 {"spacing": 40, "hconcat": [
  {"spacing": 29, "hconcat": [
   {"width": 88, "height": 176, "title": {"text": "E", "dx": -17},
    "layer": [
     {"layer": [
      {"data": {"name": "bars"}, "transform": [{"filter": "datum.p == 'E'"}],
       "mark": {"type": "bar", "stroke": "black", "strokeWidth": 1.3},
       "encoding": {
        "x": {"field": "week", "type": "nominal", "scale": {"domain": ["0","2","16"]}, "axis": {"title": "Week —►", "titleX": -66, "titleY": 14, "titleAlign": "left", "titleBaseline": "middle", "titleAngle": 0, "titleFontSize": 13}},
        "xOffset": {"field": "group", "type": "nominal", "scale": {"domain": ["WT","Pcca"]}},
        "y": {"field": "mean", "type": "quantitative", "scale": {"domain": [-80000, 0], "nice": false}, "axis": {"title": "Decel Slope", "tickCount": 5, "labelExpr": "'' + datum.value", "titlePadding": 10}},
        "fill": {"field": "group", "type": "nominal", "scale": {"domain": ["Pcca","WT"], "range": ["#bf1b1b", "white"]}, "legend": null}
       }},
      {"data": {"name": "bars"}, "transform": [{"filter": "datum.p == 'E'"}],
       "mark": {"type": "rule", "color": "black", "strokeWidth": 1.3},
       "encoding": {"x": {"field": "week", "type": "nominal", "scale": {"domain": ["0","2","16"]}}, "xOffset": {"field": "group", "type": "nominal", "scale": {"domain": ["WT","Pcca"]}}, "y": {"field": "mean", "type": "quantitative"}, "y2": {"field": "err"}}},
      {"data": {"name": "bars"}, "transform": [{"filter": "datum.p == 'E'"}],
       "mark": {"type": "tick", "orient": "horizontal", "color": "black", "size": 5, "thickness": 1.3},
       "encoding": {"x": {"field": "week", "type": "nominal", "scale": {"domain": ["0","2","16"]}}, "xOffset": {"field": "group", "type": "nominal", "scale": {"domain": ["WT","Pcca"]}}, "y": {"field": "err", "type": "quantitative"}}},
      {"data": {"name": "pts"}, "transform": [{"filter": "datum.p == 'E'"}],
       "mark": {"type": "circle", "color": "black", "size": 12, "opacity": 1},
       "encoding": {"x": {"field": "week", "type": "nominal", "scale": {"domain": ["0","2","16"]}}, "xOffset": {"field": "group", "type": "nominal", "scale": {"domain": ["WT","Pcca"]}}, "y": {"field": "v", "type": "quantitative"}}},
      {"data": {"name": "sig"}, "transform": [{"filter": "datum.p == 'E' && datum.at == 'mid'"}],
       "mark": {"type": "text", "fontSize": 18, "baseline": "alphabetic", "color": "black"},
       "encoding": {"x": {"field": "week", "type": "nominal", "scale": {"domain": ["0","2","16"]}, "bandPosition": 0.5}, "y": {"field": "y", "type": "quantitative"}, "text": {"field": "label"}}},
      {"data": {"name": "sig"}, "transform": [{"filter": "datum.p == 'E' && datum.at == 'gap'"}],
       "mark": {"type": "text", "fontSize": 18, "baseline": "alphabetic", "color": "black"},
       "encoding": {"x": {"field": "week", "type": "nominal", "scale": {"domain": ["0","2","16"]}, "bandPosition": 0}, "y": {"field": "y", "type": "quantitative"}, "text": {"field": "label"}}}
     ]},
     {"data": {"name": "sig"}, "transform": [{"filter": "datum.p == 'E'"}],
      "mark": {"type": "rule", "color": "black", "strokeWidth": 1.5},
      "encoding": {"x": {"field": "from", "type": "nominal", "scale": {"type": "point", "domain": ["WT 0","Pcca 0","WT 2","Pcca 2","WT 16","Pcca 16"], "padding": 0.5}, "axis": {"orient": "top", "labels": false, "ticks": false, "title": null}}, "x2": {"field": "to"}, "y": {"field": "y", "type": "quantitative"}}}
    ],
    "resolve": {"scale": {"x": "independent"}}},
   {"width": 88, "height": 176, "title": {"text": "F", "dx": -26},
    "layer": [
     {"layer": [
      {"data": {"name": "bars"}, "transform": [{"filter": "datum.p == 'F'"}],
       "mark": {"type": "bar", "stroke": "black", "strokeWidth": 1.3},
       "encoding": {
        "x": {"field": "week", "type": "nominal", "scale": {"domain": ["0","2","16"]}, "axis": {"title": null}},
        "xOffset": {"field": "group", "type": "nominal", "scale": {"domain": ["WT","Pcca"]}},
        "y": {"field": "mean", "type": "quantitative", "scale": {"domain": [0, 60], "nice": false}, "axis": {"title": "IVRT", "tickCount": 4, "titlePadding": 9}},
        "fill": {"field": "group", "type": "nominal", "scale": {"domain": ["Pcca","WT"], "range": ["#bf1b1b", "white"]}, "legend": null}
       }},
      {"data": {"name": "bars"}, "transform": [{"filter": "datum.p == 'F'"}],
       "mark": {"type": "rule", "color": "black", "strokeWidth": 1.3},
       "encoding": {"x": {"field": "week", "type": "nominal", "scale": {"domain": ["0","2","16"]}}, "xOffset": {"field": "group", "type": "nominal", "scale": {"domain": ["WT","Pcca"]}}, "y": {"field": "mean", "type": "quantitative"}, "y2": {"field": "err"}}},
      {"data": {"name": "bars"}, "transform": [{"filter": "datum.p == 'F'"}],
       "mark": {"type": "tick", "orient": "horizontal", "color": "black", "size": 5, "thickness": 1.3},
       "encoding": {"x": {"field": "week", "type": "nominal", "scale": {"domain": ["0","2","16"]}}, "xOffset": {"field": "group", "type": "nominal", "scale": {"domain": ["WT","Pcca"]}}, "y": {"field": "err", "type": "quantitative"}}},
      {"data": {"name": "pts"}, "transform": [{"filter": "datum.p == 'F'"}],
       "mark": {"type": "circle", "color": "black", "size": 12, "opacity": 1},
       "encoding": {"x": {"field": "week", "type": "nominal", "scale": {"domain": ["0","2","16"]}}, "xOffset": {"field": "group", "type": "nominal", "scale": {"domain": ["WT","Pcca"]}}, "y": {"field": "v", "type": "quantitative"}}},
      {"data": {"name": "sig"}, "transform": [{"filter": "datum.p == 'F' && (datum.at == 'WT' || datum.at == 'Pcca')"}],
       "mark": {"type": "text", "fontSize": 18, "baseline": "alphabetic", "color": "black"},
       "encoding": {"x": {"field": "week", "type": "nominal", "scale": {"domain": ["0","2","16"]}}, "xOffset": {"field": "at", "type": "nominal", "scale": {"domain": ["WT","Pcca"]}}, "y": {"field": "y", "type": "quantitative"}, "text": {"field": "label"}}},
      {"data": {"name": "sig"}, "transform": [{"filter": "datum.p == 'F' && datum.at == 'mid'"}],
       "mark": {"type": "text", "fontSize": 18, "baseline": "alphabetic", "color": "black"},
       "encoding": {"x": {"field": "week", "type": "nominal", "scale": {"domain": ["0","2","16"]}, "bandPosition": 0.5}, "y": {"field": "y", "type": "quantitative"}, "text": {"field": "label"}}},
      {"data": {"name": "sig"}, "transform": [{"filter": "datum.p == 'F' && datum.at == 'gap'"}],
       "mark": {"type": "text", "fontSize": 18, "baseline": "alphabetic", "color": "black"},
       "encoding": {"x": {"field": "week", "type": "nominal", "scale": {"domain": ["0","2","16"]}, "bandPosition": 0}, "y": {"field": "y", "type": "quantitative"}, "text": {"field": "label"}}}
     ]},
     {"data": {"name": "sig"}, "transform": [{"filter": "datum.p == 'F'"}],
      "mark": {"type": "rule", "color": "black", "strokeWidth": 1.5},
      "encoding": {"x": {"field": "from", "type": "nominal", "scale": {"type": "point", "domain": ["WT 0","Pcca 0","WT 2","Pcca 2","WT 16","Pcca 16"], "padding": 0.5}, "axis": null}, "x2": {"field": "to"}, "y": {"field": "y", "type": "quantitative"}}}
    ],
    "resolve": {"scale": {"x": "independent"}}}
  ]},
  {"spacing": 45, "hconcat": [
   {"width": 88, "height": 176, "title": {"text": "G", "dx": -11},
    "layer": [
     {"layer": [
      {"data": {"name": "bars"}, "transform": [{"filter": "datum.p == 'G'"}],
       "mark": {"type": "bar", "stroke": "black", "strokeWidth": 1.3},
       "encoding": {
        "x": {"field": "week", "type": "nominal", "scale": {"domain": ["0","2","16"]}, "axis": {"title": null}},
        "xOffset": {"field": "group", "type": "nominal", "scale": {"domain": ["WT","Pcca"]}},
        "y": {"field": "mean", "type": "quantitative", "scale": {"domain": [-80, 0], "nice": false}, "axis": {"title": "E'", "tickCount": 5, "labelExpr": "'' + datum.value", "titlePadding": 12}},
        "fill": {"field": "group", "type": "nominal", "scale": {"domain": ["Pcca","WT"], "range": ["#bf1b1b", "white"]}, "legend": null}
       }},
      {"data": {"name": "bars"}, "transform": [{"filter": "datum.p == 'G'"}],
       "mark": {"type": "rule", "color": "black", "strokeWidth": 1.3},
       "encoding": {"x": {"field": "week", "type": "nominal", "scale": {"domain": ["0","2","16"]}}, "xOffset": {"field": "group", "type": "nominal", "scale": {"domain": ["WT","Pcca"]}}, "y": {"field": "mean", "type": "quantitative"}, "y2": {"field": "err"}}},
      {"data": {"name": "bars"}, "transform": [{"filter": "datum.p == 'G'"}],
       "mark": {"type": "tick", "orient": "horizontal", "color": "black", "size": 5, "thickness": 1.3},
       "encoding": {"x": {"field": "week", "type": "nominal", "scale": {"domain": ["0","2","16"]}}, "xOffset": {"field": "group", "type": "nominal", "scale": {"domain": ["WT","Pcca"]}}, "y": {"field": "err", "type": "quantitative"}}},
      {"data": {"name": "pts"}, "transform": [{"filter": "datum.p == 'G'"}],
       "mark": {"type": "circle", "color": "black", "size": 12, "opacity": 1},
       "encoding": {"x": {"field": "week", "type": "nominal", "scale": {"domain": ["0","2","16"]}}, "xOffset": {"field": "group", "type": "nominal", "scale": {"domain": ["WT","Pcca"]}}, "y": {"field": "v", "type": "quantitative"}}},
      {"data": {"name": "sig"}, "transform": [{"filter": "datum.p == 'G' && datum.at == 'mid'"}],
       "mark": {"type": "text", "fontSize": 18, "baseline": "alphabetic", "color": "black"},
       "encoding": {"x": {"field": "week", "type": "nominal", "scale": {"domain": ["0","2","16"]}, "bandPosition": 0.5}, "y": {"field": "y", "type": "quantitative"}, "text": {"field": "label"}}},
      {"data": {"name": "sig"}, "transform": [{"filter": "datum.p == 'G' && datum.at == 'gap'"}],
       "mark": {"type": "text", "fontSize": 18, "baseline": "alphabetic", "color": "black"},
       "encoding": {"x": {"field": "week", "type": "nominal", "scale": {"domain": ["0","2","16"]}, "bandPosition": 0}, "y": {"field": "y", "type": "quantitative"}, "text": {"field": "label"}}}
     ]},
     {"data": {"name": "sig"}, "transform": [{"filter": "datum.p == 'G'"}],
      "mark": {"type": "rule", "color": "black", "strokeWidth": 1.5},
      "encoding": {"x": {"field": "from", "type": "nominal", "scale": {"type": "point", "domain": ["WT 0","Pcca 0","WT 2","Pcca 2","WT 16","Pcca 16"], "padding": 0.5}, "axis": {"orient": "top", "labels": false, "ticks": false, "title": null}}, "x2": {"field": "to"}, "y": {"field": "y", "type": "quantitative"}}}
    ],
    "resolve": {"scale": {"x": "independent"}}},
   {"width": 88, "height": 176, "title": {"text": "H", "dx": -23},
    "layer": [
     {"data": {"name": "bars"}, "transform": [{"filter": "datum.p == 'H'"}],
      "mark": {"type": "bar", "stroke": "black", "strokeWidth": 1.3},
      "encoding": {
       "x": {"field": "week", "type": "nominal", "scale": {"domain": ["0","2","16"]}, "axis": {"title": null}},
       "xOffset": {"field": "group", "type": "nominal", "scale": {"domain": ["WT","Pcca"]}},
       "y": {"field": "mean", "type": "quantitative", "scale": {"domain": [0, 25], "nice": false}, "axis": {"title": "E/E'", "tickCount": 6, "titlePadding": 7}},
       "fill": {"field": "group", "type": "nominal", "scale": {"domain": ["Pcca","WT"], "range": ["#bf1b1b", "white"]}, "legend": null}
      }},
     {"data": {"name": "bars"}, "transform": [{"filter": "datum.p == 'H'"}],
      "mark": {"type": "rule", "color": "black", "strokeWidth": 1.3},
      "encoding": {"x": {"field": "week", "type": "nominal", "scale": {"domain": ["0","2","16"]}}, "xOffset": {"field": "group", "type": "nominal", "scale": {"domain": ["WT","Pcca"]}}, "y": {"field": "mean", "type": "quantitative"}, "y2": {"field": "err"}}},
     {"data": {"name": "bars"}, "transform": [{"filter": "datum.p == 'H'"}],
      "mark": {"type": "tick", "orient": "horizontal", "color": "black", "size": 5, "thickness": 1.3},
      "encoding": {"x": {"field": "week", "type": "nominal", "scale": {"domain": ["0","2","16"]}}, "xOffset": {"field": "group", "type": "nominal", "scale": {"domain": ["WT","Pcca"]}}, "y": {"field": "err", "type": "quantitative"}}},
     {"data": {"name": "pts"}, "transform": [{"filter": "datum.p == 'H'"}],
      "mark": {"type": "circle", "color": "black", "size": 12, "opacity": 1},
      "encoding": {"x": {"field": "week", "type": "nominal", "scale": {"domain": ["0","2","16"]}}, "xOffset": {"field": "group", "type": "nominal", "scale": {"domain": ["WT","Pcca"]}}, "y": {"field": "v", "type": "quantitative"}}}
    ]}
  ]}
 ]}
]
}
